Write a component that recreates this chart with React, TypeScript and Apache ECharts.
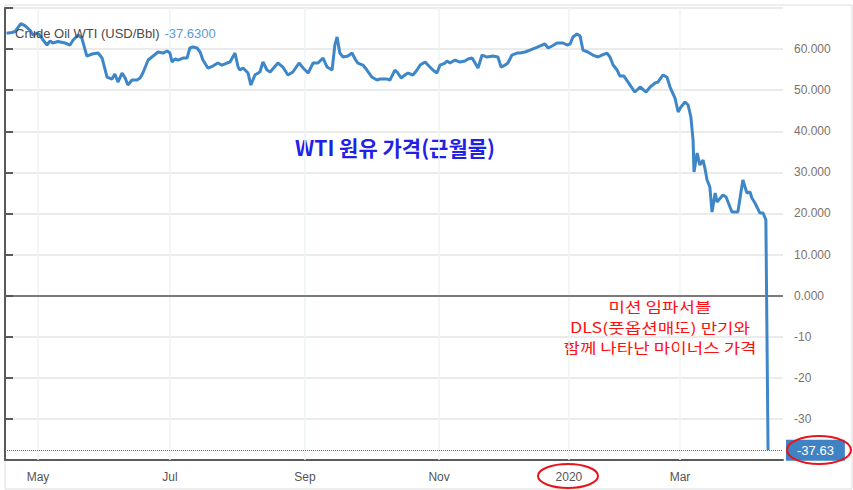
import React, { useEffect, useRef } from 'react';
import * as echarts from 'echarts';

// trading-day index (from the first plotted session) and WTI close, USD/bbl
const dayIndex = [
  0.5, 2.2, 3.2, 5.1, 6.4, 8.0, 9.0, 10.3, 11.2, 12.2, 13.5, 14.5, 15.4, 17.0, 19.3, 20.9, 21.9, 23.5, 24.7, 26.3,
  28.0, 29.9, 31.2, 32.8, 34.4, 35.3, 36.3, 37.6, 38.6, 39.5, 40.8, 42.4, 43.4, 44.3, 46.0, 47.6, 49.2, 50.8, 52.1, 53.0,
  53.7, 54.6, 55.6, 57.2, 58.5, 59.4, 60.4, 61.7, 62.7, 63.6, 65.2, 66.8, 68.4, 69.7, 71.3, 72.3, 73.9, 74.9, 75.5, 76.5,
  78.1, 79.0, 80.3, 81.9, 82.9, 84.2, 85.2, 87.7, 89.3, 90.9, 92.5, 94.5, 95.8, 97.4, 99.0, 100.6, 102.2, 103.5, 105.1, 106.0,
  106.7, 107.6, 108.6, 110.2, 111.5, 112.5, 113.4, 115.0, 116.3, 117.9, 119.5, 120.5, 122.8, 123.7, 125.3, 126.0, 127.3, 128.5, 129.5, 131.1,
  132.4, 133.4, 135.0, 135.9, 137.5, 138.8, 139.8, 141.4, 142.0, 143.0, 144.6, 146.2, 147.8, 148.8, 150.1, 152.0, 153.3, 154.9, 156.8, 158.4,
  159.4, 160.7, 161.6, 162.9, 164.5, 165.5, 167.1, 168.7, 170.3, 172.6, 173.5, 174.5, 175.8, 177.4, 179.3, 180.6, 181.6, 182.5, 183.8, 184.8,
  185.7, 187.3, 188.9, 190.6, 191.8, 193.4, 194.4, 195.4, 196.7, 197.6, 198.9, 200.2, 202.4, 204.1, 206.0, 207.3, 208.9, 209.8, 211.4, 212.7,
  213.7, 215.3, 216.3, 217.2, 218.5, 219.5, 220.4, 221.1, 221.4, 222.4, 223.3, 224.3, 224.9, 225.6, 226.5, 227.2, 228.2, 228.8, 230.7, 231.7,
  233.6, 235.5, 237.1, 238.4, 239.4, 240.0, 241.0, 242.6, 243.6, 244.5, 245.2,
];
const price = [
  63.84, 64.03, 64.27, 66.22, 65.73, 64.64, 63.42, 63.91, 63.42, 62.21, 60.99, 61.96, 61.48, 61.84, 61.48, 60.99, 62.21, 63.42, 62.69, 58.31,
  58.80, 59.04, 57.82, 53.20, 52.71, 53.93, 51.98, 54.17, 52.96, 51.25, 52.47, 52.47, 52.96, 54.17, 57.34, 58.31, 59.29, 59.04, 59.53, 59.04,
  56.85, 57.58, 57.34, 57.82, 57.82, 60.26, 60.50, 60.26, 59.29, 57.34, 55.39, 55.88, 56.61, 56.12, 56.61, 56.85, 59.04, 55.63, 54.90, 55.39,
  54.17, 51.25, 53.69, 54.42, 56.85, 54.90, 54.42, 56.61, 55.63, 53.69, 54.42, 56.61, 55.39, 54.17, 56.61, 56.61, 57.82, 55.63, 54.90, 60.99,
  62.94, 59.04, 58.07, 58.31, 59.04, 57.58, 56.61, 56.12, 54.90, 53.20, 52.47, 52.71, 52.71, 52.47, 54.90, 54.42, 52.96, 53.69, 54.17, 53.69,
  54.90, 56.12, 56.85, 56.12, 54.90, 54.17, 56.12, 56.61, 57.09, 56.61, 57.34, 56.85, 57.09, 57.58, 57.82, 55.39, 58.55, 58.07, 58.31, 58.07,
  55.63, 56.12, 56.61, 58.55, 59.04, 59.04, 59.29, 59.77, 60.26, 60.99, 61.23, 60.26, 60.75, 61.48, 61.48, 60.99, 61.23, 62.94, 63.67, 63.18,
  59.77, 59.29, 58.55, 58.07, 58.55, 59.04, 58.07, 56.12, 54.90, 53.44, 53.44, 51.98, 49.55, 50.77, 49.55, 50.77, 51.74, 51.98, 53.69, 53.20,
  50.77, 48.09, 44.68, 45.90, 47.12, 46.39, 43.47, 37.87, 30.08, 34.70, 31.78, 33.00, 31.05, 28.13, 26.43, 20.35, 24.97, 22.78, 24.48, 23.99,
  20.35, 20.35, 28.13, 24.97, 25.21, 23.75, 22.54, 20.10, 20.10, 18.40, -37.63,
];

const monthTicks = [10.6, 53, 96.4, 139.5, 181.2, 216.9];
const monthLabels = ['May', 'Jul', 'Sep', 'Nov', '2020', 'Mar'];
const lastPrice = -37.63;
const seriesTitle = 'Crude Oil WTI (USD/Bbl)';
const lastPriceText = '-37.6300';
const noteBlue = 'WTI 원유 가격(근월물)';
const noteRed = ['미션 임파서블', 'DLS(풋옵션매도) 만기와', '함께 나타난 마이너스 가격'];

const LATIN = "'Liberation Sans', Arial, sans-serif";
const KR = "'Noto Sans CJK KR', 'Noto Sans', sans-serif";

export default function App() {
  const ref = useRef<HTMLDivElement>(null);

  useEffect(() => {
    if (!ref.current) return;
    const chart = echarts.init(ref.current, undefined, { renderer: 'svg' });
    const seriesData = dayIndex.map((d, i) => [d, price[i]]);

    const redLines = noteRed.map((t, i) => ({
      type: 'text',
      x: 660,
      y: 306 + i * 20.5,
      scaleX: 1.28,
      style: {
        text: t,
        fill: '#ff1010',
        fontSize: 14,
        fontFamily: KR,
        align: 'center',
        verticalAlign: 'middle',
      },
    }));

    chart.setOption({
      animation: false,
      backgroundColor: '#ffffff',
      title: {
        text: `{a|${seriesTitle}} {b|${lastPriceText}}`,
        left: 10,
        top: 19,
        textStyle: {
          fontWeight: 'normal',
          rich: {
            a: { fontSize: 13, color: '#4a4a4a', fontFamily: LATIN, fontWeight: 'normal' },
            b: { fontSize: 13, color: '#5b9bd5', fontFamily: LATIN, fontWeight: 'normal' },
          },
        },
      },
      grid: { left: 5, right: 70, top: 8, bottom: 30, outerBoundsMode: 'none' },
      xAxis: {
        type: 'value',
        min: 0,
        max: 250,
        axisLine: { show: true, onZero: false, lineStyle: { color: '#5a5a5a', width: 2 } },
        axisTick: { show: false },
        splitLine: { show: false },
        axisLabel: {
          customValues: monthTicks,
          margin: 11,
          color: '#555555',
          fontSize: 12,
          fontFamily: LATIN,
          formatter: (v: number) => {
            const i = monthTicks.findIndex((m) => Math.abs(m - v) < 0.01);
            return i >= 0 ? monthLabels[i] : '';
          },
        },
      },
      yAxis: {
        type: 'value',
        position: 'right',
        min: -40,
        max: 70,
        interval: 10,
        axisLine: { show: true, lineStyle: { color: '#5a5a5a', width: 2 } },
        axisTick: { show: true, length: 8, lineStyle: { color: '#5a5a5a', width: 2 } },
        splitLine: { show: true, lineStyle: { color: '#e4e4e4', width: 1.5 } },
        axisLabel: {
          margin: 11,
          color: '#7d7269',
          fontSize: 12,
          fontFamily: LATIN,
          formatter: (v: number) => {
            if (v === 70 || v === -40) return '';
            return v >= 0 ? v.toFixed(3) : String(v);
          },
        },
      },
      series: [
        {
          type: 'line',
          name: 'grid',
          data: [],
          silent: true,
          z: 1,
          markLine: {
            silent: true,
            symbol: 'none',
            z: 1,
            label: { show: false },
            data: [
              ...monthTicks.map((m) => ({ xAxis: m, lineStyle: { color: '#edf3f4', width: 1.5, type: 'solid' } })),
              { yAxis: 0, lineStyle: { color: '#555555', width: 1.5, type: 'solid' } },
            ],
          },
        },
        {
          type: 'line',
          name: seriesTitle,
          data: seriesData,
          showSymbol: false,
          symbol: 'none',
          z: 3,
          lineStyle: { color: '#3d87c9', width: 3 },
          markLine: {
            silent: true,
            symbol: 'none',
            data: [
              {
                yAxis: lastPrice,
                lineStyle: { color: '#5c5cf0', width: 1, type: 'dotted' },
                label: {
                  show: true,
                  position: 'end',
                  distance: 3,
                  formatter: lastPrice.toFixed(2),
                  backgroundColor: '#3f83c4',
                  color: '#ffffff',
                  fontSize: 13,
                  fontFamily: LATIN,
                  padding: [4, 11, 4, 11],
                },
              },
            ],
          },
        },
      ],
      graphic: [
        {
          type: 'rect',
          silent: true,
          z: -1,
          shape: { x: 5, y: 5, width: 847, height: 484 },
          style: { fill: 'none', stroke: '#dddddd', lineWidth: 1 },
        },
        {
          type: 'text',
          x: 395,
          y: 147,
          style: {
            text: noteBlue,
            fill: '#1f22e6',
            fontSize: 21,
            fontWeight: 'bold',
            fontFamily: KR,
            align: 'center',
            verticalAlign: 'middle',
          },
        },
        ...redLines,
        {
          type: 'ellipse',
          silent: true,
          z: 100,
          shape: { cx: 568, cy: 476, rx: 30, ry: 12 },
          style: { fill: 'none', stroke: '#e8141c', lineWidth: 2 },
        },
        {
          type: 'ellipse',
          silent: true,
          z: 100,
          shape: { cx: 819, cy: 450, rx: 32, ry: 14 },
          style: { fill: 'none', stroke: '#e8141c', lineWidth: 2 },
        },
      ],
    });

    return () => chart.dispose();
  }, []);

  return (
    <div
      ref={ref}
      style={{ position: 'fixed', left: 0, top: 0, width: 853, height: 490 }}
    />
  );
}
